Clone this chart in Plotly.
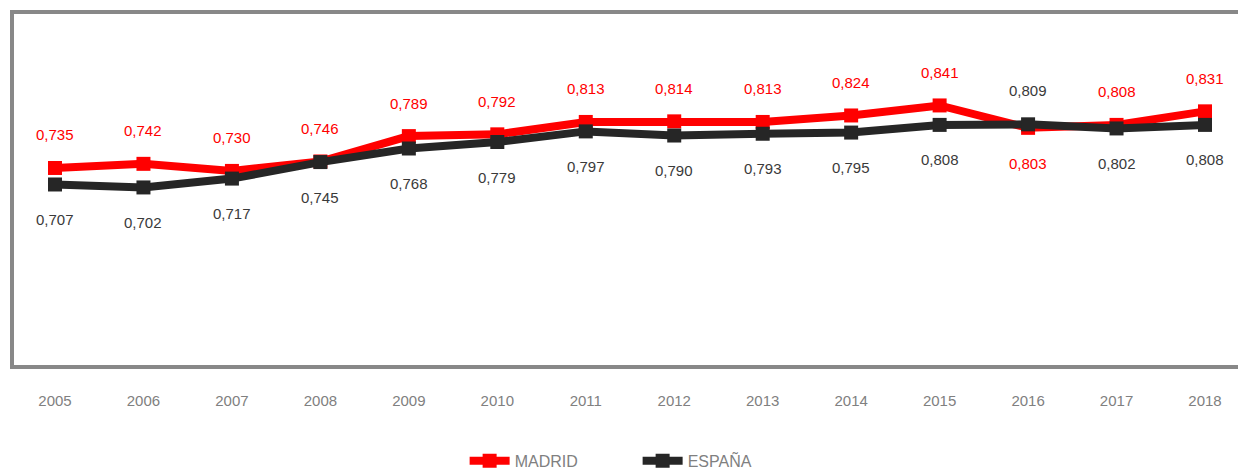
import plotly.graph_objects as go

years = ["2005", "2006", "2007", "2008", "2009", "2010", "2011", "2012", "2013", "2014", "2015", "2016", "2017", "2018"]
madrid = [0.735, 0.742, 0.730, 0.746, 0.789, 0.792, 0.813, 0.814, 0.813, 0.824, 0.841, 0.803, 0.808, 0.831]
espana = [0.707, 0.702, 0.717, 0.745, 0.768, 0.779, 0.797, 0.790, 0.793, 0.795, 0.808, 0.809, 0.802, 0.808]

RED = "#ff0000"
DARK = "#262626"
FONT = "Liberation Sans, Arial"

fig = go.Figure()
fig.add_trace(go.Scatter(x=years, y=madrid, name="MADRID", mode="lines+markers",
                         line=dict(color=RED, width=8),
                         marker=dict(symbol="square", size=14, color=RED)))
fig.add_trace(go.Scatter(x=years, y=espana, name="ESPAÑA", mode="lines+markers",
                         line=dict(color=DARK, width=8),
                         marker=dict(symbol="square", size=14, color=DARK)))

def fmt(v):
    return f"{v:.3f}".replace(".", ",")

annotations = []
for i, yr in enumerate(years):
    m, e = madrid[i], espana[i]
    m_above = m >= e
    annotations.append(dict(x=i, y=m, xref="x", yref="y", text=fmt(m), showarrow=False,
                            yshift=33 if m_above else -36,
                            font=dict(color=RED, size=15, family=FONT)))
    annotations.append(dict(x=i, y=e, xref="x", yref="y", text=fmt(e), showarrow=False,
                            yshift=-35 if m_above else 34,
                            font=dict(color="#3a3a3a", size=15, family=FONT)))

fig.update_layout(
    width=1238, height=474,
    margin=dict(l=14, r=0, t=14, b=109, autoexpand=False),
    paper_bgcolor="white", plot_bgcolor="white",
    font=dict(family=FONT, color="#808080"),
    annotations=annotations,
    showlegend=True,
    legend=dict(orientation="h", x=0.5095, xanchor="center",
                yref="container", y=0.028, yanchor="middle",
                font=dict(size=16, color="#808080"), itemwidth=40,
                entrywidth=118),
    xaxis=dict(type="category", range=[-0.4635, 13.373], showgrid=False, zeroline=False,
               showline=True, linecolor="#888888", linewidth=4, mirror=True,
               ticks="outside", ticklen=19, tickcolor="rgba(0,0,0,0)",
               tickfont=dict(size=15, color="#808080")),
    yaxis=dict(range=[0.401, 0.996], showgrid=False, zeroline=False, showticklabels=False,
               showline=True, linecolor="#888888", linewidth=4),
)

fig.write_html("out.html", config={"displayModeBar": False},
               post_script="document.body.style.margin='0';")
